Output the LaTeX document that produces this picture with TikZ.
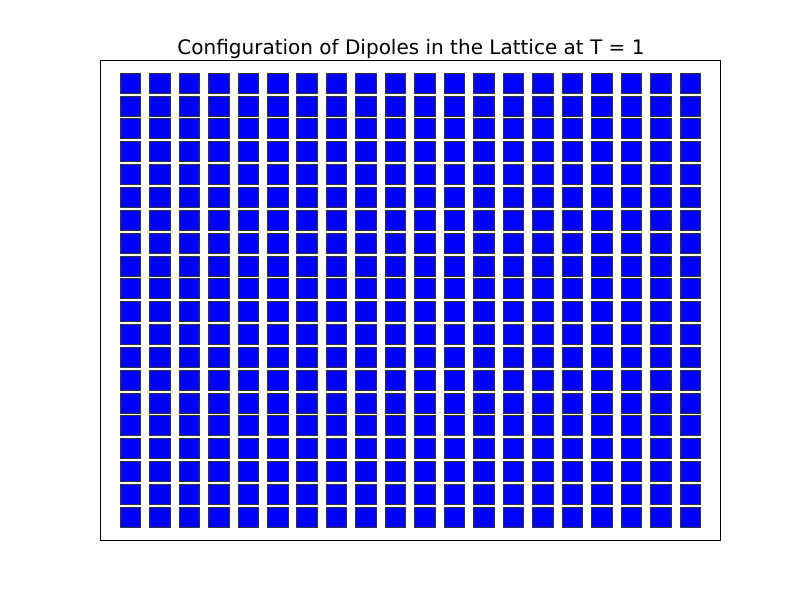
\documentclass[tikz,border=0pt]{standalone}
\usepackage{fontspec}
\setmainfont{DejaVu Sans}
\usepackage{tikz}
\usetikzlibrary{positioning}

\begin{document}
\begin{tikzpicture}[x=1pt, y=-1pt, every node/.style={font=\fontsize{20}{24}\selectfont}]
            \useasboundingbox (0,0) rectangle (800,600);
            \tikzset{dipole/.style={rectangle, draw=black!80, line width=0.8pt, fill=blue, minimum width=20.5pt, minimum height=20pt, inner sep=0pt}}
            
            % Frame
            \node[draw, line width=1pt, minimum width=620pt, minimum height=480pt, inner sep=0pt] (frame) at (410,300) {};
            
            % Title
            \node[anchor=base] (title) at (411,54) {Configuration of Dipoles in the Lattice at T = 1};
            
            % Lattice
            \foreach \i in {0,...,19} {
              \foreach \j in {0,...,19} {
                \node[dipole] (d-\i-\j) at ({130.3+29.47*\i},{83.2+22.84*\j}) {};
              }
            }
        \end{tikzpicture}
\end{document}
